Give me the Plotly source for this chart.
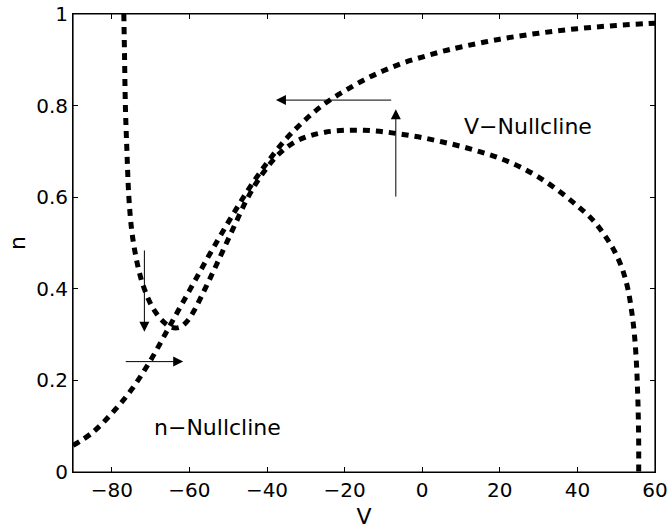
import plotly.graph_objects as go

# V-nullcline
v_null_V = [-76.9, -76.7, -76.5, -76.1, -75.6, -74.9, -73.9, -72.5, -70.8, -68.9, -66.8,
            -64.6, -62.5, -60.6, -58.8, -57.0, -55.0, -53.0, -50.5, -48.0, -45.5, -43.0,
            -40.5, -38.0, -35.5, -32.5, -29.0, -25.0, -20.0, -15.0, -10.0, -5.0, 0.0,
            5.0, 10.0, 15.0, 20.0, 25.0, 30.0, 35.0, 40.0, 44.0, 47.0, 49.5, 51.5, 53.0,
            54.0, 54.7, 55.2, 55.5, 55.7, 55.8, 55.8]
v_null_n = [1.0, 0.90, 0.80, 0.70, 0.60, 0.530, 0.475, 0.423, 0.382, 0.351, 0.329,
            0.316, 0.316, 0.329, 0.352, 0.382, 0.417, 0.453, 0.499, 0.545, 0.590, 0.628,
            0.659, 0.685, 0.705, 0.722, 0.734, 0.742, 0.746, 0.746, 0.743, 0.737, 0.730,
            0.721, 0.711, 0.699, 0.685, 0.667, 0.644, 0.615, 0.581, 0.550, 0.517, 0.483, 0.445, 0.400,
            0.350, 0.300, 0.240, 0.180, 0.120, 0.060, 0.0]

# n-nullcline
n_null_V = [-90, -85, -80, -75, -70, -65, -60, -55, -50, -45, -40, -35, -30, -25, -20,
            -15, -10, -5, 0, 5, 10, 20, 30, 40, 50, 60]
n_null_n = [0.058, 0.086, 0.128, 0.179, 0.244, 0.320, 0.396, 0.472, 0.545, 0.614, 0.675,
            0.728, 0.770, 0.805, 0.832, 0.856, 0.876, 0.893, 0.906, 0.918, 0.928, 0.945,
            0.958, 0.968, 0.975, 0.980]

# arrows: (tail V, tail n, head V, head n)
arrow_tail_V = [-71.6, -76.8, -7.6, -6.8]
arrow_tail_n = [0.487, 0.241, 0.812, 0.598]
arrow_head_V = [-71.6, -61.6, -37.7, -6.8]
arrow_head_n = [0.306, 0.241, 0.812, 0.792]

labels_text = ["V\u2212Nullcline", "n\u2212Nullcline"]
labels_V = [10.2, -69.7]
labels_n = [0.754, 0.097]

x_ticks = [-80, -60, -40, -20, 0, 20, 40, 60]
y_ticks = [0, 0.2, 0.4, 0.6, 0.8, 1]

FONT = "DejaVu Sans"

fig = go.Figure()
for xs, ys in [(v_null_V, v_null_n), (n_null_V, n_null_n)]:
    fig.add_trace(go.Scatter(x=xs, y=ys, mode="lines", line_shape="spline",
                             line=dict(color="black", width=5, dash="7px,6px", smoothing=1),
                             showlegend=False, cliponaxis=True))

annotations = []
for tv, tn, hv, hn in zip(arrow_tail_V, arrow_tail_n, arrow_head_V, arrow_head_n):
    annotations.append(dict(x=hv, y=hn, ax=tv, ay=tn, xref="x", yref="y", axref="x", ayref="y",
                            text="", showarrow=True, arrowhead=2, arrowsize=2, arrowwidth=1,
                            arrowcolor="black", standoff=0, startstandoff=0))
for t, lv, ln in zip(labels_text, labels_V, labels_n):
    annotations.append(dict(x=lv, y=ln, xref="x", yref="y", text=t, showarrow=False,
                            xanchor="left", yanchor="middle",
                            font=dict(family=FONT, size=22, color="black")))

fig.update_layout(
    width=670, height=529,
    margin=dict(l=73, r=15, t=14, b=57, autoexpand=False),
    paper_bgcolor="white", plot_bgcolor="white",
    font=dict(family=FONT, size=20, color="black"),
    annotations=annotations,
    shapes=[dict(type="rect", xref="paper", yref="paper", x0=0, y0=0, x1=1, y1=1,
                 line=dict(color="black", width=1.2), layer="above")],
    xaxis=dict(range=[-90, 60], tickvals=x_ticks, ticks="inside", ticklen=5, tickcolor="black",
               showline=True, linecolor="black", linewidth=1, mirror="ticks", showgrid=False,
               zeroline=False, automargin=False,
               title=dict(text="V", standoff=14, font=dict(size=22))),
    yaxis=dict(range=[0, 1], tickvals=y_ticks, ticks="inside", ticklen=5, tickcolor="black",
               showline=True, linecolor="black", linewidth=1, mirror="ticks", showgrid=False,
               zeroline=False, automargin=False,
               title=dict(text="n", standoff=4, font=dict(size=22))),
)

fig.write_html("out.html")
